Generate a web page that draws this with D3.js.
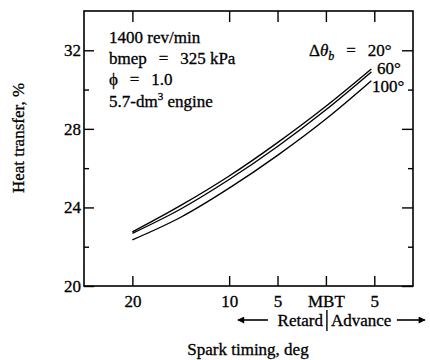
<!DOCTYPE html>
<html>
<head>
<meta charset="utf-8">
<script src="https://cdn.jsdelivr.net/npm/d3@7"></script>
<style>
  html, body { margin: 0; padding: 0; background: #fff; }
  svg { display: block; }
  text { font-family: "Liberation Serif", "Times New Roman", serif; fill: #000; stroke: #000; stroke-width: 0.3px; }
</style>
</head>
<body>
<svg id="chart" width="430" height="360"></svg>
<script>
// Spark timing relative to MBT, deg (negative = retard, positive = advance)
const timing = [-20, -15, -10, -5, 0, 4.7];
// Heat transfer, % for each burn duration
const series20 = [22.75, 24.1, 25.6, 27.3, 29.15, 31.05];
const series60 = [22.68, 23.92, 25.42, 27.1, 28.97, 30.9];
const series100 = [22.35, 23.5, 24.98, 26.65, 28.5, 30.45];
const seriesNames = ["20°", "60°", "100°"];
// axis ticks
const xTicks = [-20, -10, -5, 0, 5];
const xTickLabels = ["20", "10", "5", "MBT", "5"];
const yMajorTicks = [20, 24, 28, 32];
const yMinorTicks = [22, 26, 30];

(function () {
const svg = d3.select("#chart");
const mL = 84, mR = 413, mT = 11, mB = 286;

const x = d3.scaleLinear().domain([-25, 9]).range([mL, mR]);
const y = d3.scaleLinear().domain([20, 34]).range([mB, mT]);

const FS = 17;
const EQ = "\u2002\u2009=\u2002\u2009";

// bottom axis
svg.append("g").attr("transform", `translate(0,${mB})`)
  .call(d3.axisBottom(x).tickValues(xTicks)
    .tickFormat((d, i) => xTickLabels[i])
    .tickSizeInner(-10).tickSizeOuter(0).tickPadding(9));
// top axis
svg.append("g").attr("transform", `translate(0,${mT})`)
  .call(d3.axisTop(x).tickValues(xTicks).tickFormat("")
    .tickSizeInner(-11).tickSizeOuter(0));
// left axis
svg.append("g").attr("transform", `translate(${mL},0)`)
  .call(d3.axisLeft(y).tickValues(yMajorTicks).tickFormat(d3.format("d"))
    .tickSizeInner(-10).tickSizeOuter(0).tickPadding(3));
svg.append("g").attr("transform", `translate(${mL},0)`)
  .call(d3.axisLeft(y).tickValues(yMinorTicks).tickFormat("")
    .tickSizeInner(-5).tickSizeOuter(0));
// right axis
svg.append("g").attr("transform", `translate(${mR},0)`)
  .call(d3.axisRight(y).tickValues(yMajorTicks).tickFormat("")
    .tickSizeInner(-11).tickSizeOuter(0));
svg.append("g").attr("transform", `translate(${mR},0)`)
  .call(d3.axisRight(y).tickValues(yMinorTicks).tickFormat("")
    .tickSizeInner(-5).tickSizeOuter(0));

svg.selectAll(".domain").remove();
svg.selectAll(".tick line").attr("stroke", "#000").attr("stroke-width", 1.4);
svg.selectAll(".tick text")
  .attr("font-family", "Liberation Serif, serif")
  .attr("font-size", FS).attr("fill", "#000");

// frame
svg.append("rect").attr("x", mL).attr("y", mT)
  .attr("width", mR - mL).attr("height", mB - mT)
  .attr("fill", "none").attr("stroke", "#000").attr("stroke-width", 1.6);

// curves
const line = d3.line().x((d, i) => x(timing[i])).y(d => y(d)).curve(d3.curveMonotoneX);
[series20, series60, series100].forEach(s => {
  svg.append("path").datum(s).attr("d", line)
    .attr("fill", "none").attr("stroke", "#000").attr("stroke-width", 1.4);
});

// series labels
const lab = svg.append("text").attr("x", 309).attr("y", 56).attr("font-size", FS);
lab.append("tspan").text("Δ");
lab.append("tspan").attr("font-style", "italic").text("θ");
lab.append("tspan").attr("font-style", "italic").attr("font-size", 12).attr("dy", 4).text("b");
lab.append("tspan").attr("dy", -4).text(EQ + seriesNames[0]);
svg.append("text").attr("x", 377).attr("y", 74).attr("font-size", FS).text(seriesNames[1]);
svg.append("text").attr("x", 372).attr("y", 92).attr("font-size", FS).text(seriesNames[2]);

// condition annotations
const notes = svg.append("g").attr("font-size", FS);
notes.append("text").attr("x", 109).attr("y", 43).text("1400 rev/min");
notes.append("text").attr("x", 109).attr("y", 64).text("bmep" + EQ + "325 kPa");
notes.append("text").attr("x", 109).attr("y", 85).text("ϕ" + EQ + "1.0");
const eng = notes.append("text").attr("x", 109).attr("y", 107);
eng.append("tspan").text("5.7-dm");
eng.append("tspan").attr("font-size", 11).attr("dy", -7).text("3");
eng.append("tspan").attr("dy", 7).text(" engine");

// axis titles
svg.append("text").attr("transform", "translate(24,138) rotate(-90)")
  .attr("text-anchor", "middle").attr("font-size", FS).text("Heat transfer, %");
svg.append("text").attr("x", 248).attr("y", 355)
  .attr("text-anchor", "middle").attr("font-size", FS).text("Spark timing, deg");

// Retard | Advance
const defs = svg.append("defs");
defs.append("marker").attr("id", "ah").attr("viewBox", "0 0 10 10")
  .attr("refX", 9).attr("refY", 5).attr("markerWidth", 9).attr("markerHeight", 7)
  .attr("markerUnits", "userSpaceOnUse").attr("orient", "auto")
  .append("path").attr("d", "M0,0 L10,5 L0,10 Z").attr("fill", "#000");
const xm = x(0);
svg.append("line").attr("x1", xm - 58).attr("x2", xm - 88).attr("y1", 320).attr("y2", 320)
  .attr("stroke", "#000").attr("stroke-width", 1.6).attr("marker-end", "url(#ah)");
svg.append("line").attr("x1", xm + 71).attr("x2", xm + 99).attr("y1", 320).attr("y2", 320)
  .attr("stroke", "#000").attr("stroke-width", 1.6).attr("marker-end", "url(#ah)");
svg.append("line").attr("x1", xm + 1).attr("x2", xm + 1).attr("y1", 310).attr("y2", 331)
  .attr("stroke", "#000").attr("stroke-width", 1.4);
svg.append("text").attr("x", xm - 3).attr("y", 326).attr("text-anchor", "end")
  .attr("font-size", FS).text("Retard");
svg.append("text").attr("x", xm + 5).attr("y", 326).attr("text-anchor", "start")
  .attr("font-size", FS).text("Advance");
})();
</script>
</body>
</html>
